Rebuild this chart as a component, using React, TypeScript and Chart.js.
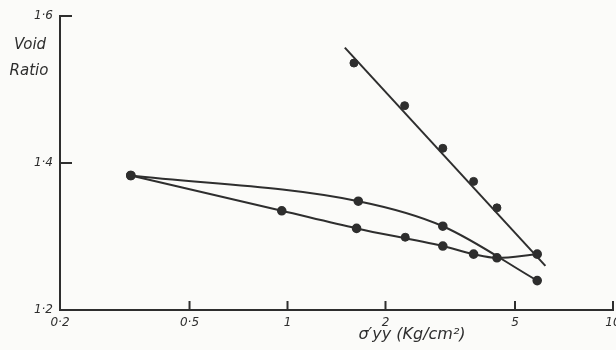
import { useEffect, useRef } from 'react';
import { Chart, registerables } from 'chart.js';

Chart.register(...registerables);

// Tick values
const xTicks = [0.2, 0.5, 1, 2, 5, 10];
const yTicks = [1.2, 1.4, 1.6];

// Steep branch (measured points) and its fitted straight line
const steepX = [1.6, 2.29, 3.0, 3.73, 4.4];
const steepY = [1.536, 1.478, 1.42, 1.375, 1.339];
const fitX = [1.5, 6.2];
const fitY = [1.557, 1.26];

// Upper loop branch
const upperX = [0.33, 1.65, 3.0, 5.85];
const upperY = [1.383, 1.348, 1.314, 1.24];

// Lower loop branch
const lowerX = [0.33, 0.96, 1.63, 3.0, 3.73, 4.4, 5.85];
const lowerY = [1.383, 1.335, 1.311, 1.287, 1.276, 1.271, 1.276];

// Stray point
const strayX = [2.3];
const strayY = [1.299];

const INK = '#2e2e2e';
const FONT = '"DejaVu Sans", sans-serif';

const pts = (xs: number[], ys: number[]) => xs.map((x, i) => ({ x, y: ys[i] }));
const fmt = (v: number) => String(Number(v.toFixed(1))).replace('.', '·');

export default function App() {
  const ref = useRef<HTMLCanvasElement>(null);

  useEffect(() => {
    if (!ref.current) return;

    const decor = {
      id: 'decor',
      beforeDraw(chart: any) {
        const c = chart.ctx;
        c.save();
        c.fillStyle = '#fbfbf9';
        c.fillRect(0, 0, chart.width, chart.height);
        c.restore();
      },
      afterDraw(chart: any) {
        const c = chart.ctx;
        const xs = chart.scales.x;
        const ys = chart.scales.y;
        const area = chart.chartArea;
        c.save();
        c.strokeStyle = INK;
        c.lineWidth = 2;
        xTicks.slice(1).forEach((v) => {
          const px = xs.getPixelForValue(v);
          c.beginPath();
          c.moveTo(px, area.bottom);
          c.lineTo(px, area.bottom - 9);
          c.stroke();
        });
        yTicks.slice(1).forEach((v) => {
          const py = ys.getPixelForValue(v);
          c.beginPath();
          c.moveTo(area.left, py);
          c.lineTo(area.left + 12, py);
          c.stroke();
        });
        c.fillStyle = INK;
        c.textAlign = 'center';
        c.textBaseline = 'middle';
        c.font = `italic 15px ${FONT}`;
        c.fillText('Void', 30, 45);
        c.fillText('Ratio', 29, 71);
        c.font = `italic 16px ${FONT}`;
        c.fillText('σ′yy (Kg/cm²)', 412, 335);
        c.restore();
      },
    };

    const lineDs = (xs: number[], ys: number[]) => ({
      data: pts(xs, ys),
      borderColor: INK,
      borderWidth: 2,
      cubicInterpolationMode: 'monotone',
      pointRadius: 3.8,
      pointBackgroundColor: INK,
      pointBorderColor: INK,
      fill: false,
    });
    const dotDs = (xs: number[], ys: number[]) => ({
      data: pts(xs, ys),
      showLine: false,
      pointRadius: 4,
      pointBackgroundColor: INK,
      pointBorderColor: INK,
    });

    const chart = new Chart(ref.current, {
      type: 'line',
      data: {
        datasets: [
          { data: pts(fitX, fitY), borderColor: INK, borderWidth: 2, pointRadius: 0, fill: false },
          dotDs(steepX, steepY),
          lineDs(upperX, upperY),
          lineDs(lowerX, lowerY),
          dotDs(strayX, strayY),
        ],
      },
      options: {
        responsive: false,
        animation: false,
        events: [],
        layout: { autoPadding: false, padding: { left: 0, right: 3, top: 16, bottom: 0 } },
        plugins: { legend: { display: false }, tooltip: { enabled: false } },
        scales: {
          x: {
            type: 'logarithmic',
            min: 0.2,
            max: 10,
            afterBuildTicks: (s: any) => {
              s.ticks = xTicks.map((v) => ({ value: v }));
            },
            afterFit: (s: any) => {
              s.height = 40;
              s.paddingLeft = 0;
              s.paddingRight = 0;
            },
            ticks: {
              autoSkip: false,
              maxRotation: 0,
              padding: 6,
              color: INK,
              font: { family: FONT, size: 12, style: 'italic' },
              callback: (v: any) => fmt(Number(v)),
            },
            grid: { display: false, drawTicks: false },
            border: { display: true, color: INK, width: 2 },
          },
          y: {
            type: 'linear',
            min: 1.2,
            max: 1.6,
            afterBuildTicks: (s: any) => {
              s.ticks = yTicks.map((v) => ({ value: v }));
            },
            afterFit: (s: any) => {
              s.width = 60;
              s.paddingTop = 0;
              s.paddingBottom = 0;
            },
            ticks: {
              padding: 7,
              color: INK,
              font: { family: FONT, size: 12, style: 'italic' },
              callback: (v: any) => fmt(Number(v)),
            },
            grid: { display: false, drawTicks: false },
            border: { display: true, color: INK, width: 2 },
          },
        },
      },
      plugins: [decor],
    } as any);

    return () => chart.destroy();
  }, []);

  return (
    <div style={{ position: 'fixed', left: 0, top: 0, width: 616, height: 350 }}>
      <canvas ref={ref} width={616} height={350} style={{ width: 616, height: 350, display: 'block' }} />
    </div>
  );
}
